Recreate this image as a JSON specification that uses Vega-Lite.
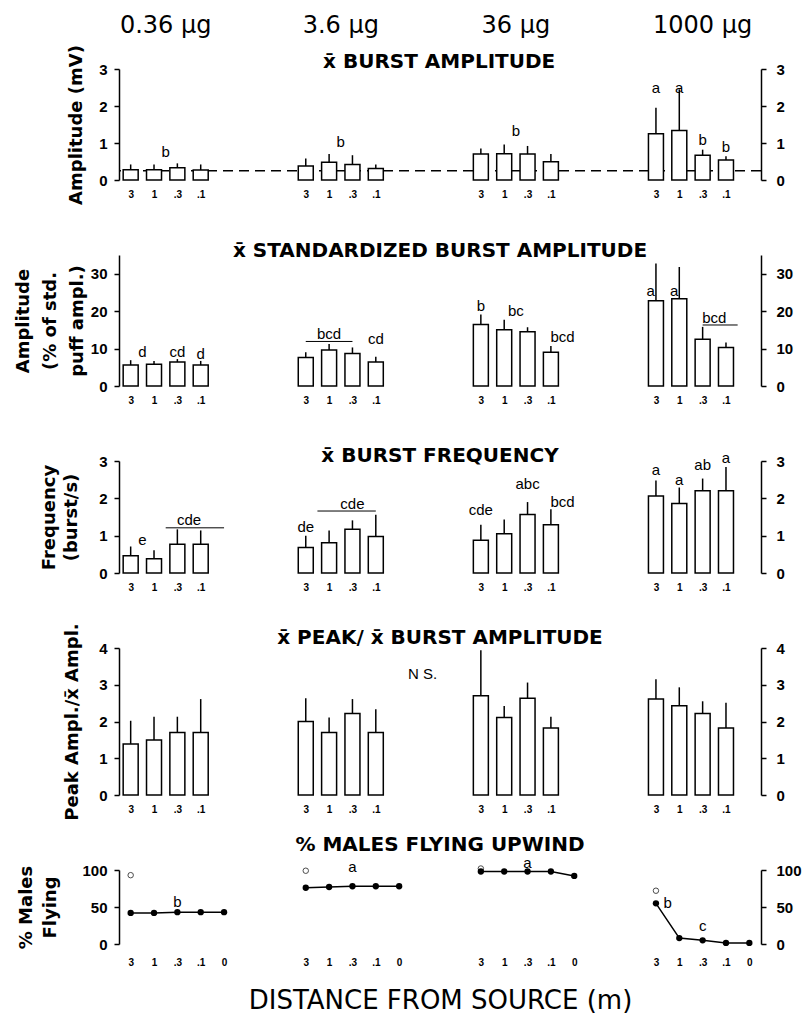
{
  "$schema": "https://vega.github.io/schema/vega-lite/v6.json",
  "padding": {"left": 14, "top": 14, "right": 5, "bottom": 5},
  "bounds": "flush",
  "spacing": 75,
  "config": {
    "view": {"stroke": null},
    "font": "Liberation Sans",
    "title": {"font": "DejaVu Sans", "fontSize": 20, "fontWeight": "bold", "anchor": "middle", "color": "black"},
    "axisLeft": {"grid": false, "domainColor": "black", "domainWidth": 1.5, "tickColor": "black", "tickWidth": 1.5, "tickSize": 5, "labelFont": "Liberation Sans", "labelFontSize": 15, "labelFontWeight": "bold", "labelColor": "black", "labelPadding": 7, "titleFont": "DejaVu Sans", "titleFontSize": 18, "titleFontWeight": "bold", "titleColor": "black"},
    "axisRight": {"grid": false, "domainColor": "black", "domainWidth": 1.5, "tickColor": "black", "tickWidth": 1.5, "tickSize": 5, "labelFont": "Liberation Sans", "labelFontSize": 15, "labelFontWeight": "bold", "labelColor": "black", "labelPadding": 10},
    "axisBottom": {"grid": false, "domain": false, "ticks": false, "labelFont": "Liberation Sans", "labelFontSize": 10, "labelFontWeight": "bold", "labelColor": "black", "labelPadding": 9, "labelAngle": 0, "labelOverlap": false, "titleColor": "black"}
  },
  "datasets": {
    "header": [
      {"slot": "0.36|1~.3", "label": "0.36 µg"},
      {"slot": "3.6|1~.3", "label": "3.6 µg"},
      {"slot": "36|1~.3", "label": "36 µg"},
      {"slot": "1000|.3", "label": "1000 µg"}
    ],
    "rowtitle": [
      {"slot": "3.6|_3", "label": "x\u0304 BURST AMPLITUDE"}
    ],
    "amp": [
      {"slot": "0.36|3", "mean": 0.28, "hi": 0.42}, {"slot": "0.36|1", "mean": 0.28, "hi": 0.42}, {"slot": "0.36|.3", "mean": 0.33, "hi": 0.45}, {"slot": "0.36|.1", "mean": 0.27, "hi": 0.42},
      {"slot": "3.6|3", "mean": 0.38, "hi": 0.58}, {"slot": "3.6|1", "mean": 0.48, "hi": 0.70}, {"slot": "3.6|.3", "mean": 0.42, "hi": 0.67}, {"slot": "3.6|.1", "mean": 0.31, "hi": 0.42},
      {"slot": "36|3", "mean": 0.70, "hi": 0.85}, {"slot": "36|1", "mean": 0.71, "hi": 0.96}, {"slot": "36|.3", "mean": 0.70, "hi": 0.92}, {"slot": "36|.1", "mean": 0.49, "hi": 0.70},
      {"slot": "1000|3", "mean": 1.25, "hi": 1.95}, {"slot": "1000|1", "mean": 1.34, "hi": 2.45}, {"slot": "1000|.3", "mean": 0.67, "hi": 0.82}, {"slot": "1000|.1", "mean": 0.54, "hi": 0.64}
    ],
    "ampL": [
      {"slot": "0.36|1~.3", "y": 0.76, "t": "b"}, {"slot": "3.6|1~.3", "y": 1.03, "t": "b"}, {"slot": "36|1~.3", "y": 1.32, "t": "b"},
      {"slot": "1000|3", "y": 2.5, "t": "a"}, {"slot": "1000|1", "y": 2.5, "t": "a"}, {"slot": "1000|.3", "y": 1.07, "t": "b"}, {"slot": "1000|.1", "y": 0.89, "t": "b"}
    ],
    "std": [
      {"slot": "0.36|3", "mean": 5.6, "hi": 6.9}, {"slot": "0.36|1", "mean": 5.8, "hi": 6.7}, {"slot": "0.36|.3", "mean": 6.4, "hi": 7.2}, {"slot": "0.36|.1", "mean": 5.6, "hi": 6.7},
      {"slot": "3.6|3", "mean": 7.6, "hi": 9.0}, {"slot": "3.6|1", "mean": 9.6, "hi": 11.2}, {"slot": "3.6|.3", "mean": 8.7, "hi": 10.3}, {"slot": "3.6|.1", "mean": 6.4, "hi": 7.8},
      {"slot": "36|3", "mean": 16.4, "hi": 19.1}, {"slot": "36|1", "mean": 15.0, "hi": 17.7}, {"slot": "36|.3", "mean": 14.5, "hi": 15.7}, {"slot": "36|.1", "mean": 9.0, "hi": 10.7},
      {"slot": "1000|3", "mean": 22.8, "hi": 32.7}, {"slot": "1000|1", "mean": 23.3, "hi": 31.8}, {"slot": "1000|.3", "mean": 12.5, "hi": 15.8}, {"slot": "1000|.1", "mean": 10.3, "hi": 11.6}
    ],
    "stdL": [
      {"slot": "0.36|3~1", "y": 9.0, "t": "d"}, {"slot": "0.36|.3", "y": 9.0, "t": "cd"}, {"slot": "0.36|.1", "y": 8.5, "t": "d"},
      {"slot": "3.6|1", "y": 13.8, "t": "bcd"}, {"slot": "3.6|.1", "y": 12.5, "t": "cd"},
      {"slot": "36|3", "y": 21.5, "t": "b"}, {"slot": "36|1~.3", "y": 20.1, "t": "bc"}, {"slot": "36|.1~0", "y": 13.0, "t": "bcd"},
      {"slot": "1000|.3~.1", "y": 18.2, "t": "bcd"}
    ],
    "stdLb": [
      {"slot": "1000|3", "y": 25.5, "t": "a"}, {"slot": "1000|1", "y": 25.5, "t": "a"}
    ],
    "stdU": [
      {"slot": "3.6|3", "slot2": "3.6|.3", "y": 11.9},
      {"slot": "1000|.3", "slot2": "1000|.1~0", "y": 16.3}
    ],
    "freq": [
      {"slot": "0.36|3", "mean": 0.46, "hi": 0.71}, {"slot": "0.36|1", "mean": 0.38, "hi": 0.61}, {"slot": "0.36|.3", "mean": 0.77, "hi": 1.17}, {"slot": "0.36|.1", "mean": 0.77, "hi": 1.14},
      {"slot": "3.6|3", "mean": 0.68, "hi": 1.0}, {"slot": "3.6|1", "mean": 0.81, "hi": 1.14}, {"slot": "3.6|.3", "mean": 1.17, "hi": 1.41}, {"slot": "3.6|.1", "mean": 0.98, "hi": 1.56},
      {"slot": "36|3", "mean": 0.88, "hi": 1.29}, {"slot": "36|1", "mean": 1.05, "hi": 1.43}, {"slot": "36|.3", "mean": 1.57, "hi": 1.90}, {"slot": "36|.1", "mean": 1.29, "hi": 1.71},
      {"slot": "1000|3", "mean": 2.06, "hi": 2.48}, {"slot": "1000|1", "mean": 1.86, "hi": 2.29}, {"slot": "1000|.3", "mean": 2.2, "hi": 2.53}, {"slot": "1000|.1", "mean": 2.2, "hi": 2.84}
    ],
    "freqL": [
      {"slot": "0.36|3~1", "y": 0.88, "t": "e"}, {"slot": "0.36|.3~.1", "y": 1.41, "t": "cde"},
      {"slot": "3.6|3", "y": 1.23, "t": "de"}, {"slot": "3.6|.3", "y": 1.84, "t": "cde"},
      {"slot": "36|3", "y": 1.70, "t": "cde"}, {"slot": "36|.3", "y": 2.39, "t": "abc"}, {"slot": "36|.1~0", "y": 1.90, "t": "bcd"},
      {"slot": "1000|3", "y": 2.77, "t": "a"}, {"slot": "1000|1", "y": 2.50, "t": "a"}, {"slot": "1000|.3", "y": 2.88, "t": "ab"}, {"slot": "1000|.1", "y": 3.09, "t": "a"}
    ],
    "freqU": [
      {"slot": "0.36|1~.3", "slot2": "0.36|0", "y": 1.21},
      {"slot": "3.6|3~1", "slot2": "3.6|.1", "y": 1.66}
    ],
    "peak": [
      {"slot": "0.36|3", "mean": 1.39, "hi": 2.02}, {"slot": "0.36|1", "mean": 1.50, "hi": 2.13}, {"slot": "0.36|.3", "mean": 1.70, "hi": 2.13}, {"slot": "0.36|.1", "mean": 1.70, "hi": 2.61},
      {"slot": "3.6|3", "mean": 2.0, "hi": 2.63}, {"slot": "3.6|1", "mean": 1.70, "hi": 2.11}, {"slot": "3.6|.3", "mean": 2.22, "hi": 2.61}, {"slot": "3.6|.1", "mean": 1.70, "hi": 2.33},
      {"slot": "36|3", "mean": 2.70, "hi": 3.94}, {"slot": "36|1", "mean": 2.11, "hi": 2.42}, {"slot": "36|.3", "mean": 2.63, "hi": 3.06}, {"slot": "36|.1", "mean": 1.82, "hi": 2.13},
      {"slot": "1000|3", "mean": 2.61, "hi": 3.15}, {"slot": "1000|1", "mean": 2.43, "hi": 2.93}, {"slot": "1000|.3", "mean": 2.22, "hi": 2.55}, {"slot": "1000|.1", "mean": 1.82, "hi": 2.51}
    ],
    "peakL": [
      {"slot": "3.6|_2", "y": 3.29, "t": "N S."}
    ],
    "males": [
      {"dose": "0.36", "slot": "0.36|3", "pct": 42}, {"dose": "0.36", "slot": "0.36|1", "pct": 42}, {"dose": "0.36", "slot": "0.36|.3", "pct": 43}, {"dose": "0.36", "slot": "0.36|.1", "pct": 43}, {"dose": "0.36", "slot": "0.36|0", "pct": 43},
      {"dose": "3.6", "slot": "3.6|3", "pct": 76}, {"dose": "3.6", "slot": "3.6|1", "pct": 77}, {"dose": "3.6", "slot": "3.6|.3", "pct": 78}, {"dose": "3.6", "slot": "3.6|.1", "pct": 78}, {"dose": "3.6", "slot": "3.6|0", "pct": 78},
      {"dose": "36", "slot": "36|3", "pct": 98}, {"dose": "36", "slot": "36|1", "pct": 98}, {"dose": "36", "slot": "36|.3", "pct": 98}, {"dose": "36", "slot": "36|.1", "pct": 98}, {"dose": "36", "slot": "36|0", "pct": 92},
      {"dose": "1000", "slot": "1000|3", "pct": 55}, {"dose": "1000", "slot": "1000|1", "pct": 8}, {"dose": "1000", "slot": "1000|.3", "pct": 5}, {"dose": "1000", "slot": "1000|.1", "pct": 1.5}, {"dose": "1000", "slot": "1000|0", "pct": 1.5}
    ],
    "open": [
      {"slot": "0.36|3", "pct": 93}, {"slot": "3.6|3", "pct": 99}, {"slot": "36|3", "pct": 102}, {"slot": "1000|3", "pct": 72}
    ],
    "malesL": [
      {"slot": "0.36|.3", "y": 57, "t": "b"}, {"slot": "3.6|.3", "y": 104, "t": "a"}, {"slot": "36|.3", "y": 109, "t": "a"}, {"slot": "1000|3~1", "y": 56, "t": "b"}, {"slot": "1000|.3", "y": 24, "t": "c"}
    ]
  },
  "vconcat": [
    {
      "width": 642, "height": 111,
      "resolve": {"axis": {"y": "independent"}},
      "layer": [
        {
          "data": {"values": [{"control": 0.25}]},
          "mark": {"type": "rule", "color": "black", "strokeDash": [10, 6], "strokeWidth": 1.3},
          "encoding": {"y": {"field": "control", "type": "quantitative", "scale": {"domain": [0, 3]}, "axis": null}}
        },
        {
          "resolve": {"axis": {"y": "independent"}},
          "encoding": {
            "x": {"field": "slot", "type": "ordinal",
              "scale": {"type": "point", "padding": 2, "domain": ["0.36|3","0.36|3~1","0.36|1","0.36|1~.3","0.36|.3","0.36|.3~.1","0.36|.1","0.36|.1~0","0.36|0","0.36|_1","0.36|_2","0.36|_3","0.36|_4","0.36|_5","0.36|_6","3.6|3","3.6|3~1","3.6|1","3.6|1~.3","3.6|.3","3.6|.3~.1","3.6|.1","3.6|.1~0","3.6|0","3.6|_1","3.6|_2","3.6|_3","3.6|_4","3.6|_5","3.6|_6","36|3","36|3~1","36|1","36|1~.3","36|.3","36|.3~.1","36|.1","36|.1~0","36|0","36|_1","36|_2","36|_3","36|_4","36|_5","36|_6","1000|3","1000|3~1","1000|1","1000|1~.3","1000|.3","1000|.3~.1","1000|.1","1000|.1~0","1000|0"]},
              "axis": {"title": null, "labelExpr": "indexof(datum.value,'~')<0 && indexof(datum.value,'_')<0 && split(datum.value,'|')[1]!='0' ? split(datum.value,'|')[1] : ''"}}
          },
          "layer": [
            {
              "data": {"name": "amp"},
              "mark": {"type": "bar", "width": 15, "fill": "white", "stroke": "black", "strokeWidth": 1.5},
              "encoding": {"y": {"field": "mean", "type": "quantitative", "scale": {"domain": [0, 3]}, "axis": {"orient": "left", "values": [0, 1, 2, 3], "title": "Amplitude (mV)", "titlePadding": 13}}}
            },
            {
              "data": {"name": "amp"},
              "mark": {"type": "rule", "color": "black", "strokeWidth": 1.5},
              "encoding": {"y": {"field": "mean", "type": "quantitative", "scale": {"domain": [0, 3]}, "axis": {"orient": "right", "values": [0, 1, 2, 3], "title": null}}, "y2": {"field": "hi"}}
            },
            {
              "data": {"name": "ampL"},
              "mark": {"type": "text", "font": "Liberation Sans Narrow, Liberation Sans", "fontSize": 15, "color": "black"},
              "encoding": {"y": {"field": "y", "type": "quantitative", "scale": {"domain": [0, 3]}, "axis": null}, "text": {"field": "t"}}
            },
            {
              "data": {"name": "rowtitle"},
              "mark": {"type": "text", "font": "DejaVu Sans", "fontSize": 20, "fontWeight": "bold", "color": "black", "dx": 5},
              "encoding": {"y": {"datum": 3.2, "type": "quantitative", "scale": {"domain": [0, 3]}, "axis": null}, "text": {"field": "label"}}
            },
            {
              "data": {"name": "header"},
              "mark": {"type": "text", "font": "DejaVu Sans", "fontSize": 24, "color": "black"},
              "encoding": {"y": {"datum": 4.15, "type": "quantitative", "scale": {"domain": [0, 3]}, "axis": null}, "text": {"field": "label"}}
            }
          ]
        }
      ]
    },
    {
      "width": 642, "height": 131,
      "title": {"text": "x\u0304 STANDARDIZED BURST AMPLITUDE", "offset": -6},
      "resolve": {"axis": {"y": "independent"}},
      "encoding": {
        "x": {"field": "slot", "type": "ordinal",
          "scale": {"type": "point", "padding": 2, "domain": ["0.36|3","0.36|3~1","0.36|1","0.36|1~.3","0.36|.3","0.36|.3~.1","0.36|.1","0.36|.1~0","0.36|0","0.36|_1","0.36|_2","0.36|_3","0.36|_4","0.36|_5","0.36|_6","3.6|3","3.6|3~1","3.6|1","3.6|1~.3","3.6|.3","3.6|.3~.1","3.6|.1","3.6|.1~0","3.6|0","3.6|_1","3.6|_2","3.6|_3","3.6|_4","3.6|_5","3.6|_6","36|3","36|3~1","36|1","36|1~.3","36|.3","36|.3~.1","36|.1","36|.1~0","36|0","36|_1","36|_2","36|_3","36|_4","36|_5","36|_6","1000|3","1000|3~1","1000|1","1000|1~.3","1000|.3","1000|.3~.1","1000|.1","1000|.1~0","1000|0"]},
          "axis": {"title": null, "labelExpr": "indexof(datum.value,'~')<0 && indexof(datum.value,'_')<0 && split(datum.value,'|')[1]!='0' ? split(datum.value,'|')[1] : ''"}}
      },
      "layer": [
        {
          "data": {"name": "std"},
          "mark": {"type": "bar", "width": 15, "fill": "white", "stroke": "black", "strokeWidth": 1.5},
          "encoding": {"y": {"field": "mean", "type": "quantitative", "scale": {"domain": [0, 35]}, "axis": {"orient": "left", "values": [0, 10, 20, 30], "title": ["Amplitude", "(% of std.", "puff ampl.)"], "titlePadding": 4, "titleLineHeight": 27}}}
        },
        {
          "data": {"name": "std"},
          "mark": {"type": "rule", "color": "black", "strokeWidth": 1.5},
          "encoding": {"y": {"field": "mean", "type": "quantitative", "scale": {"domain": [0, 35]}, "axis": {"orient": "right", "values": [0, 10, 20, 30], "title": null}}, "y2": {"field": "hi"}}
        },
        {
          "data": {"name": "stdU"},
          "mark": {"type": "rule", "color": "black", "strokeWidth": 1},
          "encoding": {"y": {"field": "y", "type": "quantitative", "scale": {"domain": [0, 35]}, "axis": null}, "x2": {"field": "slot2"}}
        },
        {
          "data": {"name": "stdL"},
          "mark": {"type": "text", "font": "Liberation Sans Narrow, Liberation Sans", "fontSize": 15, "color": "black"},
          "encoding": {"y": {"field": "y", "type": "quantitative", "scale": {"domain": [0, 35]}, "axis": null}, "text": {"field": "t"}}
        },
        {
          "data": {"name": "stdLb"},
          "mark": {"type": "text", "font": "Liberation Sans Narrow, Liberation Sans", "fontSize": 15, "color": "black", "align": "right", "dx": -1},
          "encoding": {"y": {"field": "y", "type": "quantitative", "scale": {"domain": [0, 35]}, "axis": null}, "text": {"field": "t"}}
        }
      ]
    },
    {
      "width": 642, "height": 112,
      "title": {"text": "x\u0304 BURST FREQUENCY", "offset": -15},
      "resolve": {"axis": {"y": "independent"}},
      "encoding": {
        "x": {"field": "slot", "type": "ordinal",
          "scale": {"type": "point", "padding": 2, "domain": ["0.36|3","0.36|3~1","0.36|1","0.36|1~.3","0.36|.3","0.36|.3~.1","0.36|.1","0.36|.1~0","0.36|0","0.36|_1","0.36|_2","0.36|_3","0.36|_4","0.36|_5","0.36|_6","3.6|3","3.6|3~1","3.6|1","3.6|1~.3","3.6|.3","3.6|.3~.1","3.6|.1","3.6|.1~0","3.6|0","3.6|_1","3.6|_2","3.6|_3","3.6|_4","3.6|_5","3.6|_6","36|3","36|3~1","36|1","36|1~.3","36|.3","36|.3~.1","36|.1","36|.1~0","36|0","36|_1","36|_2","36|_3","36|_4","36|_5","36|_6","1000|3","1000|3~1","1000|1","1000|1~.3","1000|.3","1000|.3~.1","1000|.1","1000|.1~0","1000|0"]},
          "axis": {"title": null, "labelExpr": "indexof(datum.value,'~')<0 && indexof(datum.value,'_')<0 && split(datum.value,'|')[1]!='0' ? split(datum.value,'|')[1] : ''"}}
      },
      "layer": [
        {
          "data": {"name": "freq"},
          "mark": {"type": "bar", "width": 15, "fill": "white", "stroke": "black", "strokeWidth": 1.5},
          "encoding": {"y": {"field": "mean", "type": "quantitative", "scale": {"domain": [0, 3]}, "axis": {"orient": "left", "values": [0, 1, 2, 3], "title": ["Frequency", "(burst/s)"], "titlePadding": 18, "titleLineHeight": 22}}}
        },
        {
          "data": {"name": "freq"},
          "mark": {"type": "rule", "color": "black", "strokeWidth": 1.5},
          "encoding": {"y": {"field": "mean", "type": "quantitative", "scale": {"domain": [0, 3]}, "axis": {"orient": "right", "values": [0, 1, 2, 3], "title": null}}, "y2": {"field": "hi"}}
        },
        {
          "data": {"name": "freqU"},
          "mark": {"type": "rule", "color": "black", "strokeWidth": 1},
          "encoding": {"y": {"field": "y", "type": "quantitative", "scale": {"domain": [0, 3]}, "axis": null}, "x2": {"field": "slot2"}}
        },
        {
          "data": {"name": "freqL"},
          "mark": {"type": "text", "font": "Liberation Sans Narrow, Liberation Sans", "fontSize": 15, "color": "black"},
          "encoding": {"y": {"field": "y", "type": "quantitative", "scale": {"domain": [0, 3]}, "axis": null}, "text": {"field": "t"}}
        }
      ]
    },
    {
      "width": 642, "height": 147,
      "title": {"text": "x\u0304 PEAK/ x\u0304 BURST AMPLITUDE", "offset": -25},
      "resolve": {"axis": {"y": "independent"}},
      "encoding": {
        "x": {"field": "slot", "type": "ordinal",
          "scale": {"type": "point", "padding": 2, "domain": ["0.36|3","0.36|3~1","0.36|1","0.36|1~.3","0.36|.3","0.36|.3~.1","0.36|.1","0.36|.1~0","0.36|0","0.36|_1","0.36|_2","0.36|_3","0.36|_4","0.36|_5","0.36|_6","3.6|3","3.6|3~1","3.6|1","3.6|1~.3","3.6|.3","3.6|.3~.1","3.6|.1","3.6|.1~0","3.6|0","3.6|_1","3.6|_2","3.6|_3","3.6|_4","3.6|_5","3.6|_6","36|3","36|3~1","36|1","36|1~.3","36|.3","36|.3~.1","36|.1","36|.1~0","36|0","36|_1","36|_2","36|_3","36|_4","36|_5","36|_6","1000|3","1000|3~1","1000|1","1000|1~.3","1000|.3","1000|.3~.1","1000|.1","1000|.1~0","1000|0"]},
          "axis": {"title": null, "labelExpr": "indexof(datum.value,'~')<0 && indexof(datum.value,'_')<0 && split(datum.value,'|')[1]!='0' ? split(datum.value,'|')[1] : ''"}}
      },
      "layer": [
        {
          "data": {"name": "peak"},
          "mark": {"type": "bar", "width": 15, "fill": "white", "stroke": "black", "strokeWidth": 1.5},
          "encoding": {"y": {"field": "mean", "type": "quantitative", "scale": {"domain": [0, 4]}, "axis": {"orient": "left", "values": [0, 1, 2, 3, 4], "title": "Peak Ampl./x\u0304 Ampl.", "titlePadding": 17}}}
        },
        {
          "data": {"name": "peak"},
          "mark": {"type": "rule", "color": "black", "strokeWidth": 1.5},
          "encoding": {"y": {"field": "mean", "type": "quantitative", "scale": {"domain": [0, 4]}, "axis": {"orient": "right", "values": [0, 1, 2, 3, 4], "title": null}}, "y2": {"field": "hi"}}
        },
        {
          "data": {"name": "peakL"},
          "mark": {"type": "text", "font": "Liberation Sans Narrow, Liberation Sans", "fontSize": 15, "color": "black"},
          "encoding": {"y": {"field": "y", "type": "quantitative", "scale": {"domain": [0, 4]}, "axis": null}, "text": {"field": "t"}}
        }
      ]
    },
    {
      "width": 642, "height": 74,
      "title": {"text": "% MALES FLYING UPWIND", "offset": 1},
      "resolve": {"axis": {"y": "independent"}},
      "encoding": {
        "x": {"field": "slot", "type": "ordinal",
          "scale": {"type": "point", "padding": 2, "domain": ["0.36|3","0.36|3~1","0.36|1","0.36|1~.3","0.36|.3","0.36|.3~.1","0.36|.1","0.36|.1~0","0.36|0","0.36|_1","0.36|_2","0.36|_3","0.36|_4","0.36|_5","0.36|_6","3.6|3","3.6|3~1","3.6|1","3.6|1~.3","3.6|.3","3.6|.3~.1","3.6|.1","3.6|.1~0","3.6|0","3.6|_1","3.6|_2","3.6|_3","3.6|_4","3.6|_5","3.6|_6","36|3","36|3~1","36|1","36|1~.3","36|.3","36|.3~.1","36|.1","36|.1~0","36|0","36|_1","36|_2","36|_3","36|_4","36|_5","36|_6","1000|3","1000|3~1","1000|1","1000|1~.3","1000|.3","1000|.3~.1","1000|.1","1000|.1~0","1000|0"]},
          "axis": {"title": "DISTANCE FROM SOURCE (m)", "titleFont": "DejaVu Sans", "titleFontSize": 26, "titleFontWeight": "normal", "titlePadding": 20, "labelPadding": 13, "labelExpr": "indexof(datum.value,'~')<0 && indexof(datum.value,'_')<0 ? split(datum.value,'|')[1] : ''"}}
      },
      "layer": [
        {
          "data": {"name": "males"},
          "mark": {"type": "line", "color": "black", "strokeWidth": 1.5, "point": {"filled": true, "size": 40, "color": "black"}},
          "encoding": {"y": {"field": "pct", "type": "quantitative", "scale": {"domain": [0, 100]}, "axis": {"orient": "left", "values": [0, 50, 100], "title": ["% Males", "Flying"], "titlePadding": 22, "titleLineHeight": 24}}, "detail": {"field": "dose"}, "order": {"value": null}}
        },
        {
          "data": {"name": "open"},
          "mark": {"type": "point", "filled": false, "size": 30, "color": "black", "strokeWidth": 1},
          "encoding": {"y": {"field": "pct", "type": "quantitative", "scale": {"domain": [0, 100]}, "axis": {"orient": "right", "values": [0, 50, 100], "title": null}}}
        },
        {
          "data": {"name": "malesL"},
          "mark": {"type": "text", "font": "Liberation Sans Narrow, Liberation Sans", "fontSize": 15, "color": "black"},
          "encoding": {"y": {"field": "y", "type": "quantitative", "scale": {"domain": [0, 100]}, "axis": null}, "text": {"field": "t"}}
        }
      ]
    }
  ]
}
